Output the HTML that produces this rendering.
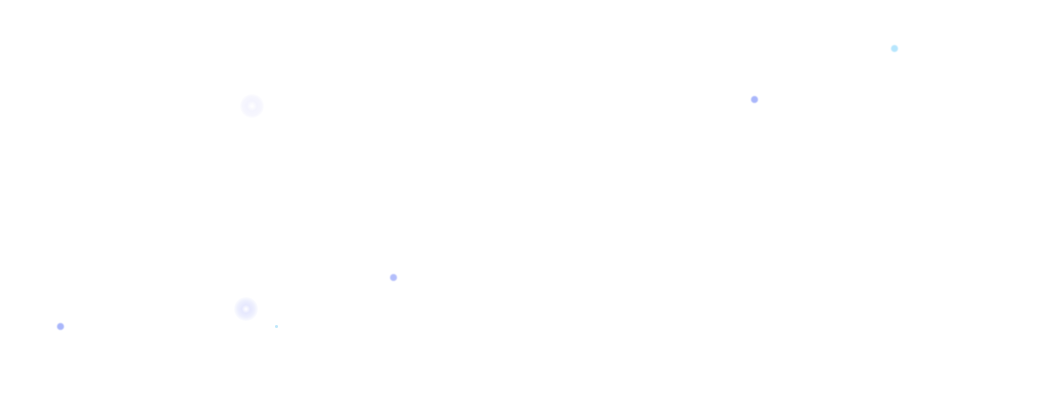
<!DOCTYPE html>
<html><head><meta charset="utf-8"><style>
html,body{margin:0;padding:0;background:#fff;width:1040px;height:400px;overflow:hidden;position:relative}
.d{position:absolute;border-radius:50%}
</style></head><body>
<div class="d" style="left:57px;top:323px;width:7px;height:7px;background:#a9b6fb;filter:blur(0.4px)"></div>
<div class="d" style="left:390px;top:274px;width:7px;height:7px;background:#b3befb;filter:blur(0.4px)"></div>
<div class="d" style="left:751px;top:96px;width:7px;height:7px;background:#a9b6fb;filter:blur(0.4px)"></div>
<div class="d" style="left:891px;top:45px;width:7px;height:7px;background:#b6e6fd;filter:blur(0.4px)"></div>
<div class="d" style="left:275px;top:325px;width:3px;height:3px;background:#bfe8fb"></div>
<div class="d" style="left:234px;top:297px;width:24px;height:24px;background:radial-gradient(circle,#ffffff 0,#e6e8fe 25%,#eef0fe 50%,rgba(255,255,255,0) 75%)"></div>
<div class="d" style="left:240px;top:94px;width:24px;height:24px;background:radial-gradient(circle,#ffffff 0,#f4f4fe 30%,#f6f6fe 55%,rgba(255,255,255,0) 75%)"></div>
</body></html>
